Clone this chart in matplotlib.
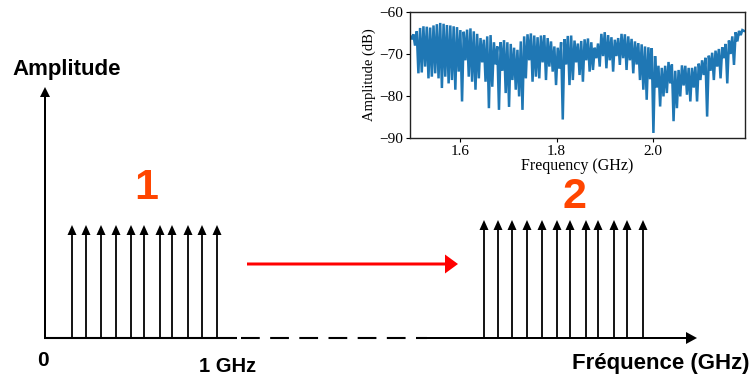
import numpy as np
import matplotlib.pyplot as plt

# --- schematic: two combs of spectral lines (drawing units = pixels of the figure)
comb1_x = [72, 86, 101, 116, 131, 144, 160, 172, 188, 202, 217]
comb2_x = [484, 498, 512, 527, 542, 557, 570, 586, 598, 614, 627, 643]
comb1_top = 225
comb2_top = 220
base_y = 338

env_db = [
    -65.6, -65.3, -64.6, -63.8, -63.4, -63.5, -63.7, -63.2, -62.9, -62.6,
    -62.8, -63.1, -63.2, -63.4, -63.6, -64.3, -64.7, -64.2, -63.9, -64.6,
    -65.2, -66.2, -66.6, -65.8, -65.5, -67.2, -68.2, -67.2, -66.7, -67.2,
    -67.6, -68.5, -69.0, -67.0, -65.8, -65.3, -65.1, -65.6, -66.0, -65.6,
    -65.5, -66.2, -67.0, -68.2, -68.5, -67.2, -66.5, -65.7, -65.6, -66.8,
    -67.5, -66.9, -66.5, -66.3, -67.2, -68.5, -67.5, -65.2, -64.8, -65.5,
    -66.0, -66.6, -66.2, -65.2, -65.3, -65.8, -66.4, -67.0, -67.4, -67.7,
    -68.2, -68.4, -68.6, -70.5, -72.8, -73.3, -72.8, -71.9, -72.5, -74.0,
    -73.8, -72.7, -72.8, -73.3, -73.3, -73.0, -72.3, -71.5, -70.9, -70.4,
    -69.7, -69.2, -68.8, -68.4, -67.6, -66.8, -65.8, -64.8, -64.5, -64.3,
]
dip_db = [
    -66.5, -68.0, -74.6, -74.4, -73.0, -75.8, -75.4, -74.6, -75.8, -78.1,
    -75.4, -77.0, -76.2, -78.5, -74.2, -81.3, -71.5, -75.4, -76.6, -78.5,
    -75.8, -72.0, -76.6, -82.9, -77.8, -72.5, -83.3, -74.0, -79.3, -82.6,
    -76.2, -78.5, -80.1, -83.3, -75.8, -71.5, -76.6, -75.4, -75.8, -72.0,
    -76.2, -73.0, -74.2, -77.4, -73.5, -85.6, -72.5, -77.4, -76.2, -72.0,
    -75.0, -76.6, -71.5, -74.2, -73.8, -71.0, -73.0, -70.5, -73.4, -71.5,
    -74.2, -70.5, -72.6, -71.0, -73.8, -71.5, -74.6, -72.5, -76.2, -78.5,
    -80.9, -76.0, -88.8, -78.0, -82.5, -80.1, -79.3, -77.0, -86.0, -82.9,
    -80.1, -77.5, -79.7, -81.3, -78.0, -81.3, -76.2, -75.0, -84.9, -74.0,
    -76.2, -73.0, -75.8, -71.0, -77.0, -70.0, -72.6, -67.0, -65.5, -64.5,
]
freq_ghz = np.linspace(1.495, 2.19, 2 * len(env_db))
amp_db = np.column_stack([env_db, dip_db]).ravel()

fig = plt.figure(figsize=(7.53, 3.81), dpi=100)
fig.patch.set_facecolor('white')

# ---------------------------------------------------------------------------
# Schematic drawn on a full-figure axes
# ---------------------------------------------------------------------------
ax = fig.add_axes([0, 0, 1, 1])
ax.set_xlim(0, 753)
ax.set_ylim(381, 0)
ax.axis('off')

arrow_kw = dict(length_includes_head=True, fc='black', ec='black', lw=0)

# axes of the sketch
ax.arrow(45, base_y, 0, 87 - base_y, width=2, head_width=10, head_length=10, **arrow_kw)
ax.plot([44, 237], [base_y, base_y], color='black', lw=1.5, solid_capstyle='butt')
ax.plot([241, 427], [base_y, base_y], color='black', lw=1.5, dashes=(9, 5))
ax.arrow(427, base_y, 697 - 427, 0, width=2, head_width=12, head_length=11, **arrow_kw)

# spectral lines
for x in comb1_x:
    ax.arrow(x, base_y, 0, comb1_top - base_y, width=1.8, head_width=9,
             head_length=10, **arrow_kw)
for x in comb2_x:
    ax.arrow(x, base_y, 0, comb2_top - base_y, width=1.8, head_width=9,
             head_length=10, **arrow_kw)

# translation arrow
ax.arrow(247, 264, 458 - 247, 0, width=3, head_width=19, head_length=13,
         length_includes_head=True, fc='#ff0000', ec='#ff0000', lw=0)

# labels
bold = dict(fontweight='bold', family='Liberation Sans')
ax.text(12, 70, 'Amplitude', fontsize=16, ha='left', va='center', **bold)
ax.text(43, 360, '0', fontsize=15, ha='center', va='center', **bold)
ax.text(228, 367, '1 GHz', fontsize=14.5, ha='center', va='center', **bold)
ax.text(750, 364, 'Fréquence (GHz)', fontsize=16, ha='right', va='center', **bold)
ax.text(146, 188, '1', fontsize=31, color='#ff4500', ha='center', va='center', **bold)
ax.text(575, 197, '2', fontsize=31, color='#ff4500', ha='center', va='center', **bold)

# ---------------------------------------------------------------------------
# Inset: measured spectrum
# ---------------------------------------------------------------------------
serif = 'Liberation Serif'
ins = fig.add_axes([0.5445, 0.6378, 0.4449, 0.3307])
ins.plot(freq_ghz, amp_db, color='#1f77b4', lw=1.8, solid_joinstyle='miter')
ins.set_xlim(1.495, 2.192)
ins.set_ylim(-90, -60)
ins.set_xticks([1.6, 1.8, 2.0])
ins.set_xticklabels(['1.6', '1.8', '2.0'])
ins.set_yticks([-60, -70, -80, -90])
ins.set_yticklabels(['\u221260', '\u221270', '\u221280', '\u221290'])
ins.tick_params(labelsize=11, length=3, width=0.8, pad=2)
for lab in ins.get_xticklabels() + ins.get_yticklabels():
    lab.set_family(serif)
ins.set_xlabel('Frequency (GHz)', fontsize=11.5, family=serif, labelpad=0)
ins.set_ylabel('Amplitude (dB)', fontsize=10.5, family=serif, labelpad=2)
for s in ins.spines.values():
    s.set_color('#222')
    s.set_linewidth(1.0)

plt.savefig('out.png', dpi=100)
